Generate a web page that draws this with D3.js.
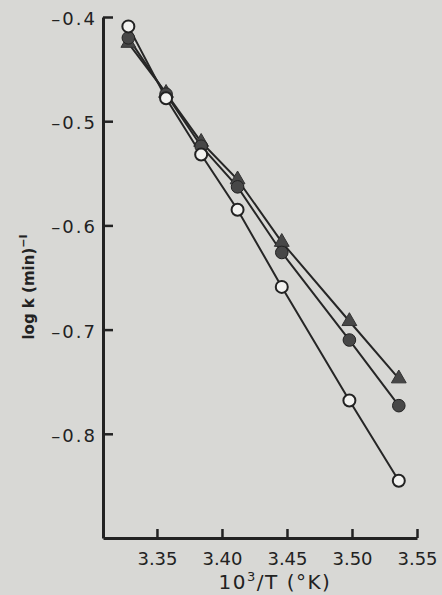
<!DOCTYPE html>
<html>
<head>
<meta charset="utf-8">
<script src="https://cdn.jsdelivr.net/npm/d3@7"></script>
<style>
  body { margin: 0; background: #d8d8d5; }
  svg { display: block; }
  .tick text { font-family: "DejaVu Sans", sans-serif; font-size: 18px; fill: #222; }
</style>
</head>
<body>
<div id="chart"></div>
<script>
// data
var invT = [3.328, 3.357, 3.384, 3.412, 3.446, 3.498, 3.536];
var openCircle = [-0.409, -0.478, -0.532, -0.585, -0.659, -0.768, -0.845];
var filledCircle = [-0.420, -0.474, -0.524, -0.563, -0.626, -0.710, -0.773];
var filledTriangle = [-0.425, -0.473, -0.520, -0.556, -0.616, -0.692, -0.747];
var xTicks = [3.35, 3.40, 3.45, 3.50, 3.55];
var yTicks = [-0.4, -0.5, -0.6, -0.7, -0.8];

var width = 442, height = 595;

var svg = d3.select("#chart")
  .append("svg")
    .attr("width", width)
    .attr("height", height);

var x = d3.scaleLinear()
    .domain([3.3085, 3.55])
    .range([103, 417]);

var y = d3.scaleLinear()
    .domain([-0.9, -0.4])
    .range([538, 17]);

// axes
var xAxis = svg.append("g")
    .attr("transform", "translate(0,538)")
    .call(d3.axisBottom(x).tickValues(xTicks).tickFormat(d3.format(".2f")).tickSize(-9).tickPadding(14).tickSizeOuter(0));

var yAxis = svg.append("g")
    .attr("transform", "translate(103,0)")
    .call(d3.axisLeft(y).tickValues(yTicks).tickFormat(d => "\u2013" + Math.abs(d).toFixed(1)).tickSize(-10).tickPadding(6).tickSizeOuter(0));

svg.selectAll(".domain").attr("stroke", "#222").attr("stroke-width", 3);
svg.selectAll(".tick line").attr("stroke", "#222").attr("stroke-width", 2.5);
yAxis.selectAll(".tick text").attr("letter-spacing", "2px").attr("dy", "0.42em");

// axis titles
var xTitle = svg.append("text")
    .attr("x", 275)
    .attr("y", 589)
    .attr("text-anchor", "middle")
    .attr("letter-spacing", "1.5px")
    .style("font-family", "DejaVu Sans, sans-serif")
    .style("font-size", "20px")
    .style("fill", "#222");
xTitle.append("tspan").text("10");
xTitle.append("tspan").attr("dy", -8).style("font-size", "13px").text("3");
xTitle.append("tspan").attr("dy", 8).text("/T (°K)");

var yTitle = svg.append("text")
    .attr("transform", "translate(34,287) rotate(-90)")
    .attr("text-anchor", "middle")
    .style("font-family", "DejaVu Sans, sans-serif")
    .style("font-size", "15px")
    .style("font-weight", "bold")
    .style("fill", "#222");
yTitle.append("tspan").text("log k (min)");
yTitle.append("tspan").attr("dy", -7).style("font-size", "11px").text("\u2212I");

// series
var series = [
  {name: "triangle", values: filledTriangle},
  {name: "filled", values: filledCircle},
  {name: "open", values: openCircle}
];

var line = d3.line()
    .x((d, i) => x(invT[i]))
    .y(d => y(d));

series.forEach(function(s) {
  svg.append("path")
      .datum(s.values)
      .attr("fill", "none")
      .attr("stroke", "#262626")
      .attr("stroke-width", 2)
      .attr("d", line);
});

series.forEach(function(s) {
  var g = svg.append("g");
  if (s.name == "triangle") {
    g.selectAll("path")
      .data(s.values)
      .enter()
      .append("path")
        .attr("transform", (d, i) => "translate(" + x(invT[i]) + "," + y(d) + ")")
        .attr("d", d3.symbol(d3.symbolTriangle).size(95))
        .attr("fill", "#474747")
        .attr("stroke", "#333")
        .attr("stroke-width", 1);
  } else {
    g.selectAll("circle")
      .data(s.values)
      .enter()
      .append("circle")
        .attr("cx", (d, i) => x(invT[i]))
        .attr("cy", d => y(d))
        .attr("r", s.name == "open" ? 6 : 6.3)
        .attr("fill", s.name == "open" ? "#f2f2f0" : "#474747")
        .attr("stroke", "#222")
        .attr("stroke-width", s.name == "open" ? 2 : 1);
  }
});
</script>
</body>
</html>
